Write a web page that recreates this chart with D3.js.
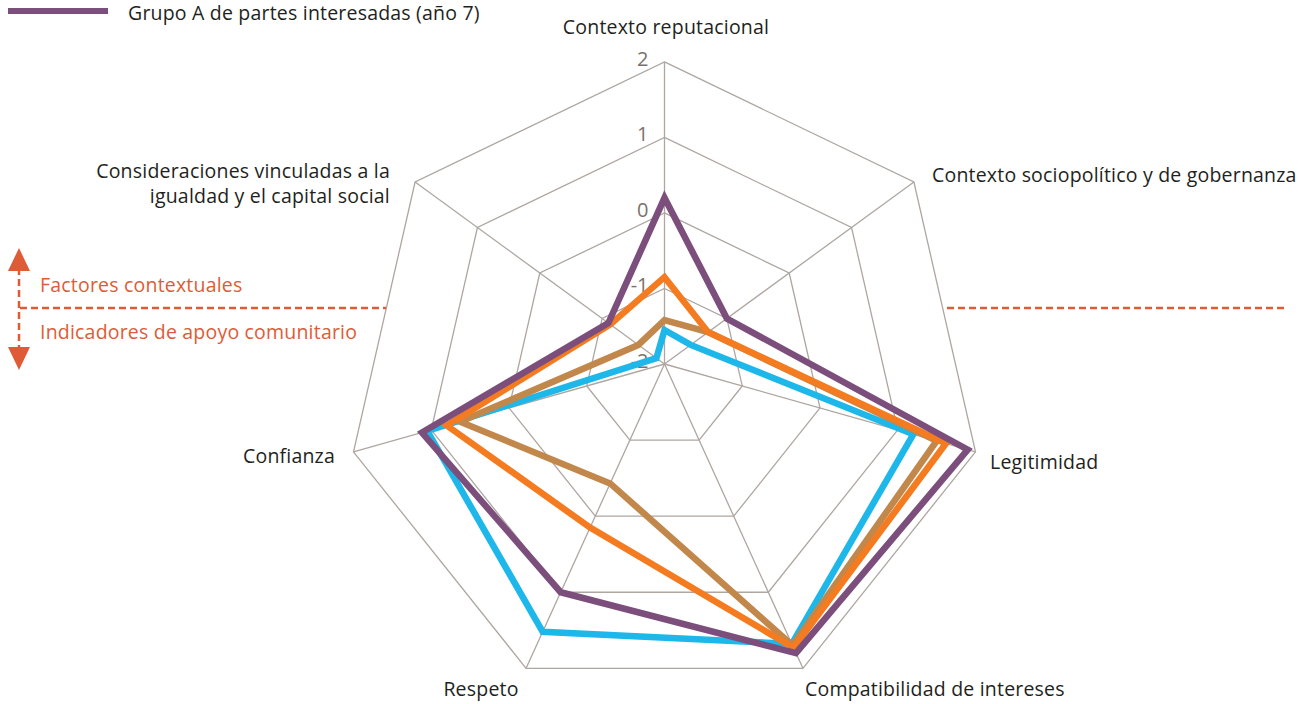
<!DOCTYPE html>
<html>
<head>
<meta charset="utf-8">
<script src="https://cdnjs.cloudflare.com/ajax/libs/d3/7.8.5/d3.min.js"></script>
<style>
  body { margin: 0; background: #fff; }
  svg { font-family: "Open Sans", "Noto Sans", sans-serif; }
</style>
</head>
<body>
<svg width="1298" height="704"></svg>
<script>
var svg = d3.select('svg');

//axis names, clockwise from the top
var axes = ['Contexto reputacional', 'Contexto sociopolítico y de gobernanza', 'Legitimidad',
            'Compatibilidad de intereses', 'Respeto', 'Confianza',
            'Consideraciones vinculadas a la|igualdad y el capital social'];

var ticks = [-2, -1, 0, 1, 2];

//series values, one per axis, same order as above
var cyanValues   = [-1.55, -1.58, 1.2, 1.68, 1.52, 1.05, -1.87];
var brownValues  = [-1.42, -1.3, 1.5, 1.7, -0.43, 0.63, -1.58];
var orangeValues = [-0.85, -1.3, 1.62, 1.73, 0.15, 0.8, -1.13];
var purpleValues = [0.2, -1.0, 1.9, 1.8, 1.0, 1.12, -1.1];

var seriesNames = ['Grupo D', 'Grupo C', 'Grupo B', 'Grupo A de partes interesadas (año 7)'];

var series = [
    {name: seriesNames[0], values: cyanValues,   color: '#1db7ea'},
    {name: seriesNames[1], values: brownValues,  color: '#c2874a'},
    {name: seriesNames[2], values: orangeValues, color: '#f47b20'},
    {name: seriesNames[3], values: purpleValues, color: '#7b4e7b'}
];

var cx = 664.5, cy = 364;
var tilt = 0.053;   //the picture leans down a little as the radius grows

var scaleR = d3.scaleLinear().domain([-2, 2]).range([0, 319]);
var scaleA = d3.scaleLinear().domain([0, axes.length]).range([-Math.PI / 2, Math.PI * 1.5]);

//turn an axis index and a value into a point on the page
function point(i, v){
    var r = scaleR(v);
    var a = scaleA(i);
    return [cx + r * Math.cos(a), cy + r * Math.sin(a) + tilt * r];
}

var fontSize = 19.5;
var spacing = 0.2;

var grid = svg.append('g');

//rings
ticks.slice(1).forEach(function(t){
    grid.append('path')
        .attr('d', d3.line()(axes.map(function(d, i){ return point(i, t); })) + 'Z')
        .attr('fill', 'none')
        .attr('stroke', '#aea6a1')
        .attr('stroke-width', 1.3);
});

//spokes
axes.forEach(function(d, i){
    var p = point(i, 2);
    grid.append('line')
        .attr('x1', cx).attr('y1', cy)
        .attr('x2', p[0]).attr('y2', p[1])
        .attr('stroke', '#aea6a1')
        .attr('stroke-width', 1.3);
});

//tick labels along the top spoke
grid.selectAll('.tick')
    .data(ticks)
    .enter()
    .append('text')
    .attr('x', cx - 16)
    .attr('y', function(d){ return point(0, d)[1] - 3; })
    .attr('dy', '0.35em')
    .attr('text-anchor', 'end')
    .attr('font-size', 20)
    .attr('fill', '#7a716c')
    .text(function(d){ return d; });

//the data lines
var line = d3.line().curve(d3.curveLinearClosed);

svg.selectAll('.series')
    .data(series)
    .enter()
    .append('path')
    .attr('class', 'series')
    .attr('d', function(s){
        return line(s.values.map(function(v, i){ return point(i, v); }));
    })
    .attr('fill', 'none')
    .attr('stroke', function(s){ return s.color; })
    .attr('stroke-width', 6.5)
    .attr('stroke-linejoin', 'miter');

//axis names
var labelPos = [
    {x: 666, y: 27, anchor: 'middle'},
    {x: 932, y: 175, anchor: 'start'},
    {x: 990, y: 462, anchor: 'start'},
    {x: 805, y: 689, anchor: 'start'},
    {x: 481, y: 689, anchor: 'middle'},
    {x: 335, y: 456, anchor: 'end'},
    {x: 390, y: 171, anchor: 'end'}
];

axes.forEach(function(d, i){
    var t = svg.append('text')
        .attr('x', labelPos[i].x)
        .attr('y', labelPos[i].y)
        .attr('text-anchor', labelPos[i].anchor)
        .attr('font-size', fontSize)
        .attr('letter-spacing', spacing)
        .attr('fill', '#231f20');
    d.split('|').forEach(function(part, k){
        t.append('tspan')
            .attr('x', labelPos[i].x)
            .attr('dy', k == 0 ? '0.35em' : 25)
            .text(part);
    });
});

//legend, only the purple group shows in the picture
var last = series[series.length - 1];
svg.append('line')
    .attr('x1', 8).attr('x2', 108)
    .attr('y1', 11).attr('y2', 11)
    .attr('stroke', last.color)
    .attr('stroke-width', 6);
svg.append('text')
    .attr('x', 128).attr('y', 13)
    .attr('dy', '0.35em')
    .attr('font-size', fontSize)
    .attr('letter-spacing', spacing)
    .attr('fill', '#231f20')
    .text(last.name);

//contextual / community split marker
var red = '#df5b35';
var notes = svg.append('g');

notes.append('line')
    .attr('x1', 19).attr('x2', 19)
    .attr('y1', 268).attr('y2', 350)
    .attr('stroke', red).attr('stroke-width', 2.5)
    .attr('stroke-dasharray', '7,4');

notes.append('path')
    .attr('d', 'M19,248 L30,271 L8,271 Z')
    .attr('fill', red);
notes.append('path')
    .attr('d', 'M19,370 L30,347 L8,347 Z')
    .attr('fill', red);

notes.append('line')
    .attr('x1', 20).attr('x2', 386)
    .attr('y1', 308).attr('y2', 308)
    .attr('stroke', red).attr('stroke-width', 2.5)
    .attr('stroke-dasharray', '7,4');
notes.append('line')
    .attr('x1', 947).attr('x2', 1285)
    .attr('y1', 308).attr('y2', 308)
    .attr('stroke', red).attr('stroke-width', 2.5)
    .attr('stroke-dasharray', '7,4');

notes.append('text')
    .attr('x', 40).attr('y', 285)
    .attr('dy', '0.35em')
    .attr('font-size', fontSize)
    .attr('letter-spacing', spacing)
    .attr('fill', red)
    .text('Factores contextuales');
notes.append('text')
    .attr('x', 40).attr('y', 332)
    .attr('dy', '0.35em')
    .attr('font-size', fontSize)
    .attr('letter-spacing', spacing)
    .attr('fill', red)
    .text('Indicadores de apoyo comunitario');
</script>
</body>
</html>
